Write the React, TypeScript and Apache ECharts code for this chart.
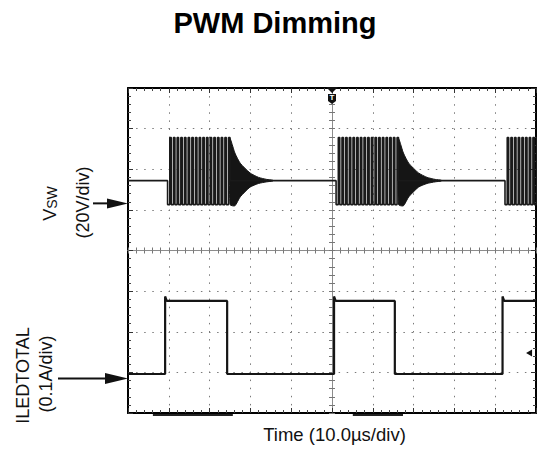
import React, { useEffect, useRef } from 'react';
import * as echarts from 'echarts';

// Axes: time relative to trigger (µs), vertical in scope divisions
const TIME_RANGE = [-50, 50];
const TIME_DIV = 10;
const DIV_RANGE = [-4, 4];

// VSW trace (in divisions)
const VSW_IDLE = 1.72;
const VSW_LOW = 1.13;
const VSW_HIGH = 2.78;
const VSW_REF = 1.16;
const VSW_BURST_START = [-40.3, 1.0, 42.4];
const VSW_PULSE_OFFSETS = [0, 0.9, 1.8, 2.7, 3.6, 4.5, 5.4, 6.3, 7.2, 8.1, 9.0, 9.9, 10.8, 11.7, 12.6, 13.5, 14.4];
const VSW_LOW_TIME = 0.55;
const VSW_HIGH_TIME = 0.35;
// ring-down envelope after a burst: [µs after burst end, upper, lower]
const VSW_RING = [
  [0, 2.75, 1.13],
  [1.2, 2.4, 1.1],
  [2.5, 2.15, 1.32],
  [4.9, 1.91, 1.56],
  [7.0, 1.8, 1.65],
  [9.0, 1.75, 1.69],
  [10.5, 1.73, 1.71],
];

// ILEDTOTAL trace (in divisions)
const ILED_LOW = -3.04;
const ILED_HIGH = -1.24;
const ILED_OVERSHOOT = -1.13;
const ILED_REF = -3.15;
const ILED_RISE = [-40.9, 0.5, 41.8];
const ILED_FALL = [-25.7, 15.4];

// scope markers
const TRIGGER_TIME = 0;
const TRIGGER_LEVEL_MARK = [48.3, -2.52];
const CURSOR_BARS = [
  [-43.9, -24.3],
  [5.1, 17.4],
];

const TITLE = 'PWM Dimming';
const X_LABEL = 'Time (10.0µs/div)';

export default function App() {
  const ref = useRef<HTMLDivElement>(null);

  useEffect(() => {
    const el = ref.current!;
    const chart = echarts.init(el, null, { renderer: 'svg' });
    const FONT = '"Liberation Sans", Arial, sans-serif';
    const [xmin, xmax] = TIME_RANGE;
    const [ymin, ymax] = DIV_RANGE;

    // build VSW line
    const vsw: number[][] = [[xmin, VSW_IDLE]];
    const ringEnds: number[] = [];
    VSW_BURST_START.forEach((s) => {
      vsw.push([s, VSW_IDLE], [s, VSW_LOW]);
      let end = s;
      VSW_PULSE_OFFSETS.forEach((off, i) => {
        const t0 = s + off;
        const tr = t0 + VSW_LOW_TIME;
        const tf = tr + VSW_HIGH_TIME;
        vsw.push([t0, VSW_LOW], [tr, VSW_LOW], [tr, VSW_HIGH], [tf, VSW_HIGH]);
        if (i < VSW_PULSE_OFFSETS.length - 1) vsw.push([tf, VSW_LOW]);
        end = tf;
      });
      vsw.push([end, VSW_IDLE]);
      if (end < xmax) ringEnds.push(end);
    });
    if (ringEnds.length === VSW_BURST_START.length) vsw.push([xmax, VSW_IDLE]);

    // build ILED line
    const iled: number[][] = [[xmin, ILED_LOW]];
    ILED_RISE.forEach((r, i) => {
      iled.push([r, ILED_LOW], [r, ILED_OVERSHOOT], [r + 0.4, ILED_HIGH]);
      const f = ILED_FALL[i];
      if (f !== undefined) iled.push([f, ILED_HIGH], [f, ILED_LOW]);
      else iled.push([xmax, ILED_HIGH]);
    });

    const base = (min: number, max: number, interval: number) => ({
      type: 'value',
      min,
      max,
      interval,
      axisLabel: { show: false },
      splitLine: { show: false },
    });
    const frame = (min: number, max: number, interval: number, position: string) => ({
      ...base(min, max, interval),
      position,
      axisLine: { show: true, onZero: false, lineStyle: { color: '#000', width: 2 } },
      axisTick: { show: true, inside: true, length: 5, lineStyle: { color: '#333', width: 1 } },
      minorTick: { show: true, splitNumber: 5, length: 3, lineStyle: { color: '#444', width: 1 } },
    });
    const center = (min: number, max: number, interval: number, position: string, inside: boolean) => ({
      ...base(min, max, interval),
      position,
      axisLine: { show: true, onZero: true, onZeroAxisIndex: 0, lineStyle: { color: '#8c8c8c', width: 1 } },
      axisTick: { show: true, inside, length: 3, lineStyle: { color: '#777', width: 1 } },
      minorTick: { show: true, splitNumber: 5, length: 3, lineStyle: { color: '#777', width: 1 } },
    });
    const dotted = { show: true, lineStyle: { color: '#7a7a7a', width: 1, type: [1.5, 6.6] } };

    const option: any = {
      animation: false,
      backgroundColor: '#fff',
      grid: { left: 128, top: 88, width: 408, height: 325, containLabel: false },
      xAxis: [
        { ...frame(xmin, xmax, TIME_DIV, 'bottom'), splitLine: dotted },
        frame(xmin, xmax, TIME_DIV, 'top'),
        center(xmin, xmax, TIME_DIV, 'bottom', true),
        center(xmin, xmax, TIME_DIV, 'bottom', false),
      ],
      yAxis: [
        { ...frame(ymin, ymax, 1, 'left'), splitLine: dotted },
        frame(ymin, ymax, 1, 'right'),
        center(ymin, ymax, 1, 'left', true),
        center(ymin, ymax, 1, 'left', false),
      ],
      series: [
        {
          name: 'VSW',
          type: 'line',
          xAxisIndex: 0,
          yAxisIndex: 0,
          data: vsw,
          showSymbol: false,
          symbol: 'none',
          clip: true,
          lineStyle: { color: '#1a1a1a', width: 1.6 },
          z: 3,
        },
        {
          name: 'VSW ring',
          type: 'custom',
          xAxisIndex: 0,
          yAxisIndex: 0,
          data: ringEnds.map((e) => [e, VSW_IDLE]),
          renderItem: (params: any, api: any) => {
            const e = api.value(0);
            const top = VSW_RING.map(([dt, u]) => api.coord([e + dt, u]));
            const bot = VSW_RING.slice()
              .reverse()
              .map(([dt, , l]) => api.coord([e + dt, l]));
            return {
              type: 'polygon',
              shape: { points: top.concat(bot), smooth: 0.2 },
              style: { fill: '#151515', stroke: '#151515', lineWidth: 1 },
            };
          },
          z: 3,
        },
        {
          name: 'ILEDTOTAL',
          type: 'line',
          xAxisIndex: 0,
          yAxisIndex: 0,
          data: iled,
          showSymbol: false,
          symbol: 'none',
          clip: true,
          lineStyle: { color: '#151515', width: 2.2 },
          z: 3,
          markPoint: {
            silent: true,
            animation: false,
            data: [
              {
                coord: [TRIGGER_TIME, 3.95],
                symbol: 'triangle',
                symbolSize: [12, 6],
                symbolRotate: 180,
                itemStyle: { color: '#111' },
                label: { show: false },
              },
              {
                coord: [TRIGGER_TIME, 3.73],
                symbol: 'path://M0,0 L8,0 L8,7 L4,10 L0,7 Z',
                symbolSize: [8, 10],
                itemStyle: { color: '#111' },
                label: {
                  show: true,
                  formatter: 'T',
                  color: '#fff',
                  fontSize: 8,
                  fontWeight: 'bold',
                  fontFamily: FONT,
                  position: 'inside',
                  offset: [0, -1],
                },
              },
              {
                coord: TRIGGER_LEVEL_MARK,
                symbol: 'triangle',
                symbolSize: [7, 6],
                symbolRotate: 90,
                itemStyle: { color: '#111' },
                label: { show: false },
              },
            ],
          },
        },
      ],
    };
    chart.setOption(option);

    const px = (x: number, y: number) => chart.convertToPixel({ xAxisIndex: 0, yAxisIndex: 0 }, [x, y]) as number[];
    const yV = px(xmin, VSW_REF)[1];
    const yI = px(xmin, ILED_REF)[1];
    const bottomY = px(xmin, ymin)[1] + 2;
    const x0 = px(xmin, 0)[0];

    const graphic: any[] = [
      {
        type: 'text',
        x: 275,
        y: 23,
        style: { text: TITLE, font: `bold 29px ${FONT}`, fill: '#000', align: 'center', verticalAlign: 'middle' },
      },
      {
        type: 'text',
        x: 334.5,
        y: 434,
        style: { text: X_LABEL, font: `18.5px ${FONT}`, fill: '#111', align: 'center', verticalAlign: 'middle' },
      },
      {
        type: 'text',
        x: 50,
        y: 203.5,
        rotation: Math.PI / 2,
        style: {
          text: '{v|V}{s|SW}',
          rich: {
            v: { fontSize: 18, fontFamily: FONT, fill: '#111', verticalAlign: 'bottom' },
            s: { fontSize: 14, fontFamily: FONT, fill: '#111', verticalAlign: 'bottom' },
          },
          align: 'center',
          verticalAlign: 'middle',
        },
      },
      {
        type: 'text',
        x: 83,
        y: 202.5,
        rotation: Math.PI / 2,
        style: { text: '(20V/div)', font: `18px ${FONT}`, fill: '#111', align: 'center', verticalAlign: 'middle' },
      },
      {
        type: 'text',
        x: 22.5,
        y: 375.5,
        rotation: Math.PI / 2,
        style: { text: 'ILEDTOTAL', font: `18px ${FONT}`, fill: '#111', align: 'center', verticalAlign: 'middle' },
      },
      {
        type: 'text',
        x: 45.5,
        y: 374,
        rotation: Math.PI / 2,
        style: { text: '(0.1A/div)', font: `18px ${FONT}`, fill: '#111', align: 'center', verticalAlign: 'middle' },
      },
      { type: 'line', shape: { x1: 93, y1: yV, x2: 110, y2: yV }, style: { stroke: '#111', lineWidth: 2 } },
      { type: 'polygon', shape: { points: [[107, yV - 5], [x0, yV], [107, yV + 5]] }, style: { fill: '#111' } },
      { type: 'line', shape: { x1: 58, y1: yI, x2: 108, y2: yI }, style: { stroke: '#111', lineWidth: 2 } },
      { type: 'polygon', shape: { points: [[105, yI - 5.5], [x0, yI], [105, yI + 5.5]] }, style: { fill: '#111' } },
      ...CURSOR_BARS.map(([a, b]) => ({
        type: 'line',
        shape: { x1: px(a, 0)[0], y1: bottomY, x2: px(b, 0)[0], y2: bottomY },
        style: { stroke: '#222', lineWidth: 2 },
      })),
    ];
    chart.setOption({ graphic });

    return () => chart.dispose();
  }, []);

  return (
    <div
      ref={ref}
      style={{ position: 'absolute', left: 0, top: 0, width: 537, height: 451, background: '#fff' }}
    />
  );
}
